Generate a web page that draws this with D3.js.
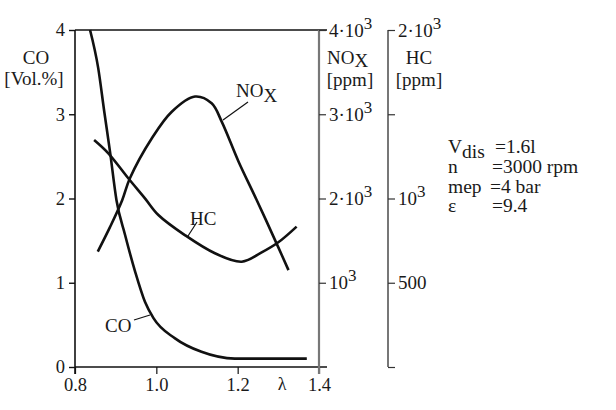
<!DOCTYPE html>
<html><head><meta charset="utf-8">
<script src="https://cdn.jsdelivr.net/npm/d3@7"></script>
<style>
body{margin:0;background:#fff;}
svg text{font-family:"Liberation Serif","Times New Roman",serif;fill:#1a1a1a;}
</style></head>
<body><svg id="c" width="616" height="410"></svg>
<script>
// ---- data ----
const coLambda = [0.837,0.857,0.872,0.886,0.902,0.923,0.948,0.972,0.993,1.046,1.111,1.193,1.37];
const coValues = [4.0,3.55,3.03,2.56,1.98,1.57,1.13,0.775,0.58,0.34,0.18,0.10,0.10];
const noxLambda = [0.856,0.886,0.916,0.935,0.989,1.038,1.095,1.136,1.161,1.202,1.247,1.30,1.325];
const noxValues = [1370,1660,1980,2240,2715,3030,3210,3130,2910,2440,1980,1420,1150];
const hcLambda = [0.847,0.882,0.931,0.972,1.005,1.07,1.144,1.21,1.259,1.30,1.345];
const hcValues = [1347,1268,1120,1001,902,783,675,625,680,740,833];
const lambdaTicks = [0.8,1.0,1.2,1.4];
const coTicks = [0,1,2,3,4];
const noxTicks = [1000,2000,3000,4000];
const noxTickLabels = [["10","3"],["2·10","3"],["3·10","3"],["4·10","3"]];
const hcTicks = [0,500,1000,1500,2000];
const hcTickLabels = [null,["500",""],["10","3"],null,["2·10","3"]];
const params = [["V","dis","=1.6l"],["n","","=3000 rpm"],["mep","","=4 bar"],["ε","","=9.4"]];

// ---- scales ----
const svg = d3.select("#c");
const x = d3.scaleLinear().domain([0.8,1.4]).range([75,319]);
const yCO = d3.scaleLinear().domain([0,4]).range([367,30]);
const yNOx = d3.scaleLinear().domain([0,4000]).range([367,30]);
const yHC = d3.scaleLinear().domain([0,2000]).range([367,30]);

function supLabels(sel, labels){
  sel.selectAll(".tick text").each(function(d,i){
    const t = d3.select(this); t.text("");
    const L = labels[i]; if(!L) return;
    t.append("tspan").text(L[0]);
    if(L[1]) t.append("tspan").attr("dy","-8").attr("font-size",17).text(L[1]);
  });
}

// top frame line
svg.append("line").attr("x1",75).attr("x2",327).attr("y1",30).attr("y2",30)
  .attr("stroke","#111").attr("stroke-width",1.6);

// left CO axis
const gL = svg.append("g").attr("transform","translate(75,0)")
  .call(d3.axisLeft(yCO).tickValues(coTicks).tickSize(6).tickSizeOuter(0).tickPadding(4).tickFormat(d3.format("d")));
gL.select(".domain").remove();
gL.selectAll("line").attr("stroke","#111").attr("stroke-width",1.4);
gL.selectAll("text").attr("font-size",18.5).attr("font-family","Liberation Serif");
svg.append("line").attr("x1",75).attr("x2",75).attr("y1",30).attr("y2",374).attr("stroke","#111").attr("stroke-width",1.6);

// bottom axis
const gB = svg.append("g").attr("transform","translate(0,367)")
  .call(d3.axisBottom(x).tickValues(lambdaTicks).tickSize(7).tickSizeOuter(0).tickPadding(4).tickFormat(d3.format(".1f")));
gB.select(".domain").attr("d","M75,0H327").attr("stroke","#111").attr("stroke-width",1.6);
gB.selectAll(".tick line").attr("stroke","#111").attr("stroke-width",1.2);
gB.selectAll("text").attr("font-size",18.5).attr("font-family","Liberation Serif");
svg.append("text").attr("x",282).attr("y",390).attr("text-anchor","middle").attr("font-size",18).text("λ");

// NOx axis
const gN = svg.append("g").attr("transform","translate(319,0)")
  .call(d3.axisRight(yNOx).tickValues(noxTicks).tickSize(7).tickSizeOuter(0).tickPadding(3));
gN.select(".domain").attr("d","M0,30V374").attr("stroke","#777").attr("stroke-width",2.2);
gN.selectAll(".tick line").attr("stroke","#333").attr("stroke-width",1.2);
gN.selectAll("text").attr("font-size",19).attr("font-family","Liberation Serif");
supLabels(gN, noxTickLabels);

// HC axis
const gH = svg.append("g").attr("transform","translate(388,0)")
  .call(d3.axisRight(yHC).tickValues(hcTicks).tickSize(7).tickSizeOuter(0).tickPadding(3));
gH.select(".domain").attr("d","M0,30V367").attr("stroke","#777").attr("stroke-width",2);
gH.selectAll(".tick line").attr("stroke","#333").attr("stroke-width",1.2);
gH.selectAll("text").attr("font-size",19).attr("font-family","Liberation Serif");
supLabels(gH, hcTickLabels);

// axis titles
svg.append("text").attr("x",36).attr("y",64).attr("text-anchor","middle").attr("font-size",19).text("CO");
svg.append("text").attr("x",34).attr("y",85).attr("text-anchor","middle").attr("font-size",19).text("[Vol.%]");
const nt = svg.append("text").attr("x",327).attr("y",64).attr("font-size",19);
nt.append("tspan").text("NO"); nt.append("tspan").attr("dy",3).text("X");
svg.append("text").attr("x",350).attr("y",86).attr("text-anchor","middle").attr("font-size",19).text("[ppm]");
svg.append("text").attr("x",419).attr("y",64).attr("text-anchor","middle").attr("font-size",19).text("HC");
svg.append("text").attr("x",419).attr("y",86).attr("text-anchor","middle").attr("font-size",19).text("[ppm]");

// curves
const line = (xs, ys, yS, curve) => d3.line().curve(curve)
  .x((d,i)=>x(xs[i])).y((d,i)=>yS(ys[i]))(xs);
[[coLambda,coValues,yCO,d3.curveMonotoneX],[noxLambda,noxValues,yNOx,d3.curveCatmullRom.alpha(0.5)],[hcLambda,hcValues,yHC,d3.curveCatmullRom.alpha(0.5)]].forEach(s=>{
  svg.append("path").attr("d",line(s[0],s[1],s[2],s[3])).attr("fill","none")
    .attr("stroke","#111").attr("stroke-width",2.6).attr("stroke-linejoin","round");
});

// curve labels with leaders
const nl = svg.append("text").attr("x",236).attr("y",97).attr("font-size",19);
nl.append("tspan").text("NO"); nl.append("tspan").attr("dy",5).text("X");
svg.append("line").attr("x1",248).attr("y1",102).attr("x2",223).attr("y2",120).attr("stroke","#111").attr("stroke-width",1.2);
svg.append("text").attr("x",190).attr("y",225).attr("font-size",19).text("HC");
svg.append("line").attr("x1",197).attr("y1",222).attr("x2",188).attr("y2",236).attr("stroke","#111").attr("stroke-width",1.2);
svg.append("text").attr("x",105).attr("y",332).attr("font-size",19).text("CO");
svg.append("line").attr("x1",134).attr("y1",320).attr("x2",150).attr("y2",315).attr("stroke","#111").attr("stroke-width",1.2);

// parameters block
const rowsY = [153,173,193,212];
const valX = [495,492,490,492];
params.forEach((p,i)=>{
  const t = svg.append("text").attr("x",448).attr("y",rowsY[i]).attr("font-size",19.5);
  t.append("tspan").text(p[0]);
  if(p[1]) t.append("tspan").attr("dy",5).text(p[1]);
  svg.append("text").attr("x",valX[i]).attr("y",rowsY[i]).attr("font-size",19.5).text(p[2]);
});
</script></body></html>
